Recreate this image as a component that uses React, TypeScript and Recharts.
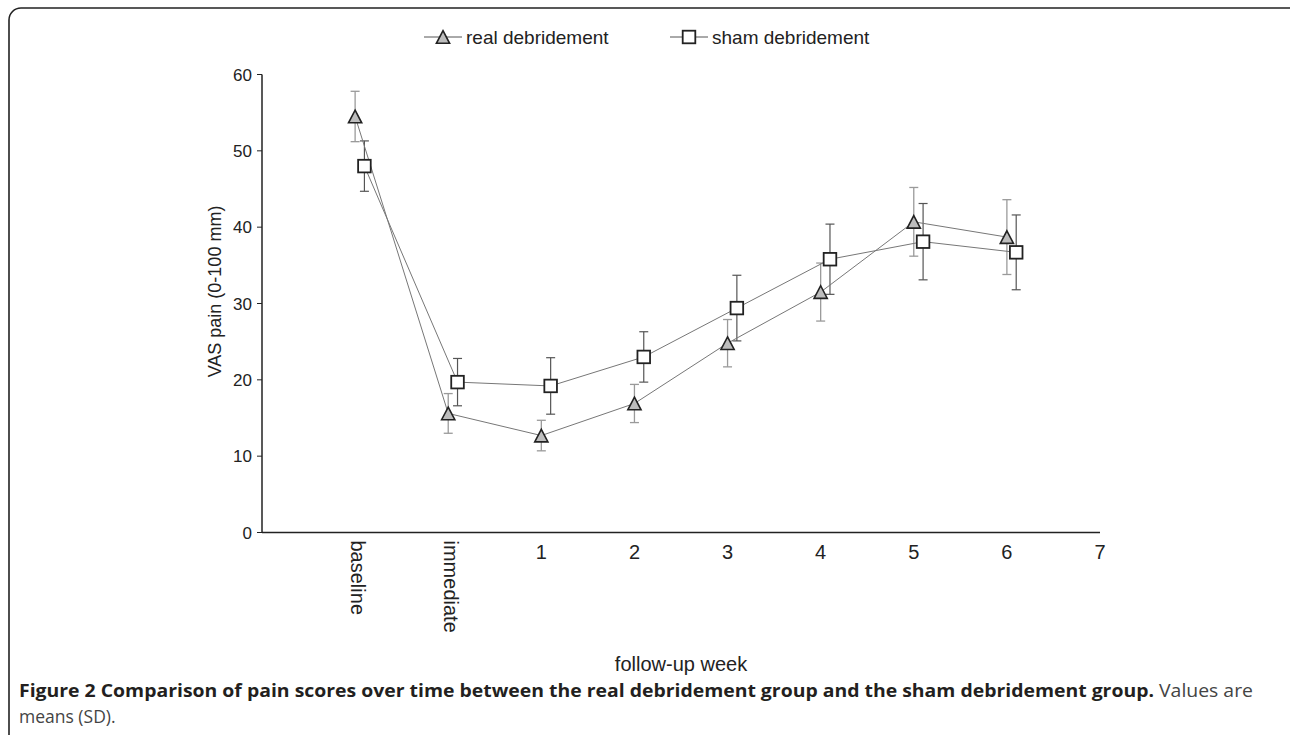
import React from "react";
import { ScatterChart, Scatter, XAxis, YAxis, ErrorBar } from "recharts";

// follow-up points: -1 = baseline, 0 = immediate, then weeks 1..6
const weeks = [-1, 0, 1, 2, 3, 4, 5, 6];
const xTicks = [-1, 0, 1, 2, 3, 4, 5, 6, 7];
const xTickNames = ["baseline", "immediate", "1", "2", "3", "4", "5", "6", "7"];
const yTicks = [0, 10, 20, 30, 40, 50, 60];

const realMean = [54.5, 15.6, 12.7, 16.9, 24.8, 31.5, 40.7, 38.7];
const realSd = [3.3, 2.6, 2.0, 2.5, 3.1, 3.8, 4.5, 4.9];
const shamMean = [48.0, 19.7, 19.2, 23.0, 29.4, 35.8, 38.1, 36.7];
const shamSd = [3.3, 3.1, 3.7, 3.3, 4.3, 4.6, 5.0, 4.9];

const realData = weeks.map((w, i) => ({ x: w, y: realMean[i], sd: realSd[i] }));
const shamData = weeks.map((w, i) => ({ x: w + 0.1, y: shamMean[i], sd: shamSd[i] }));

const font = '"Liberation Sans", Arial, sans-serif';
const ink = "#222";

const Triangle = (p: any) => {
  const { cx, cy } = p;
  return (
    <polygon
      points={`${cx},${cy - 6.3} ${cx + 6.6},${cy + 6.3} ${cx - 6.6},${cy + 6.3}`}
      fill="#bdbdbd"
      stroke={ink}
      strokeWidth={1.6}
    />
  );
};

const Square = (p: any) => {
  const { cx, cy } = p;
  return (
    <rect x={cx - 6.3} y={cy - 6.3} width={12.6} height={12.6} fill="#fff" stroke={ink} strokeWidth={1.8} />
  );
};

const XTick = (p: any) => {
  const { x, y, payload } = p;
  const name = xTickNames[xTicks.indexOf(payload.value)];
  if (payload.value <= 0) {
    return (
      <text
        transform={`translate(${x},${y + 6}) rotate(90)`}
        dy={4}
        textAnchor="start"
        fontSize={20}
        fontFamily={font}
        fill={ink}
      >
        {name}
      </text>
    );
  }
  return (
    <text x={x} y={y + 24} textAnchor="middle" fontSize={20} fontFamily={font} fill={ink}>
      {name}
    </text>
  );
};

const YLabel = (p: any) => {
  const { viewBox } = p;
  const cx = viewBox.x + viewBox.width - 47;
  const cy = viewBox.y + viewBox.height / 2 - 12;
  return (
    <text
      transform={`translate(${cx},${cy}) rotate(-90)`}
      textAnchor="middle"
      dominantBaseline="central"
      fontSize={18}
      fontFamily={font}
      fill={ink}
    >
      VAS pain (0-100 mm)
    </text>
  );
};

const Overlay = () => (
  <svg width={1290} height={735} style={{ position: "absolute", left: 0, top: 0, pointerEvents: "none" }}>
    <rect x={9} y={8} width={1400} height={900} rx={12} fill="none" stroke={ink} strokeWidth={1.6} />
    <g fontFamily={font} fontSize={19} fill={ink}>
      <line x1={424} y1={37} x2={462} y2={37} stroke="#555" strokeWidth={1} />
      <Triangle cx={443} cy={37} />
      <text x={466} y={43.5}>real debridement</text>
      <line x1={670} y1={37} x2={708} y2={37} stroke="#555" strokeWidth={1} />
      <Square cx={689} cy={37} />
      <text x={712} y={43.5}>sham debridement</text>
    </g>
    <g fontFamily='"Open Sans", sans-serif' fontSize={17.5}>
      <text x={19} y={697} textLength={1234} lengthAdjust="spacingAndGlyphs">
        <tspan fontWeight="bold" fill="#231f20">
          Figure 2 Comparison of pain scores over time between the real debridement group and the sham debridement group.
        </tspan>
        <tspan fill="#444"> Values are</tspan>
      </text>
      <text x={19} y={723} fill="#444">
        means (SD).
      </text>
    </g>
  </svg>
);

export default function App() {
  return (
    <div style={{ position: "fixed", left: 0, top: 0, width: 1290, height: 735, background: "#fff", overflow: "hidden" }}>
      <ScatterChart width={1290} height={735} margin={{ top: 74.5, right: 190, bottom: 52.5, left: 202 }}>
        <XAxis
          type="number"
          dataKey="x"
          domain={[-2, 7]}
          ticks={xTicks}
          interval={0}
          allowDataOverflow
          height={150}
          tickLine={false}
          tickSize={0}
          axisLine={{ stroke: ink, strokeWidth: 1.5 }}
          tick={<XTick />}
          label={{ value: "follow-up week", position: "insideBottom", offset: 12, fontSize: 20, fill: ink, fontFamily: font }}
        />
        <YAxis
          type="number"
          dataKey="y"
          domain={[0, 60]}
          ticks={yTicks}
          interval={0}
          width={60}
          tickSize={5}
          tickMargin={5}
          axisLine={{ stroke: ink, strokeWidth: 1.5 }}
          tickLine={{ stroke: ink, strokeWidth: 1 }}
          tick={{ fontSize: 17, fill: ink, fontFamily: font }}
          label={<YLabel />}
        />
        <Scatter
          name="real debridement"
          data={realData}
          line={{ stroke: "#777", strokeWidth: 1 }}
          lineType="joint"
          shape={<Triangle />}
          isAnimationActive={false}
        >
          <ErrorBar dataKey="sd" direction="y" width={4.5} stroke="#9a9a9a" strokeWidth={1.3} isAnimationActive={false} />
        </Scatter>
        <Scatter
          name="sham debridement"
          data={shamData}
          line={{ stroke: "#777", strokeWidth: 1 }}
          lineType="joint"
          shape={<Square />}
          isAnimationActive={false}
        >
          <ErrorBar dataKey="sd" direction="y" width={4.5} stroke="#555" strokeWidth={1.2} isAnimationActive={false} />
        </Scatter>
      </ScatterChart>
      <Overlay />
    </div>
  );
}
